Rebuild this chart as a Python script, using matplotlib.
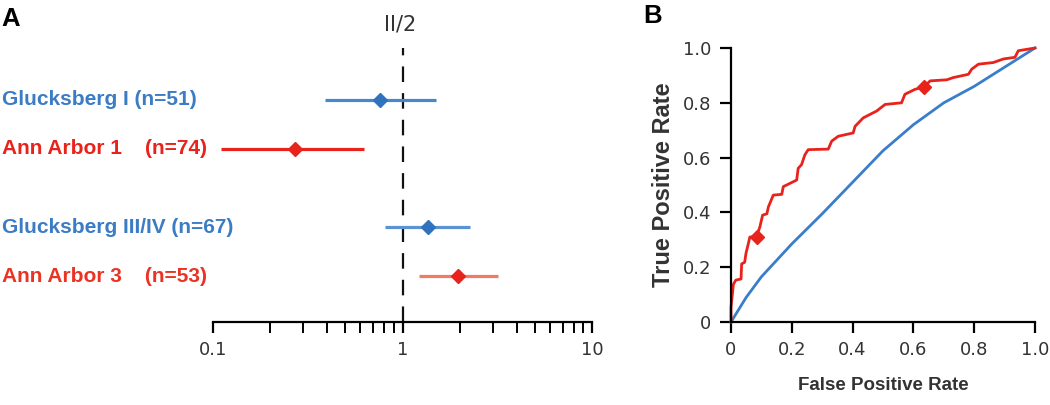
import matplotlib
matplotlib.use("Agg")
import matplotlib.pyplot as plt
import matplotlib.transforms as mtransforms
import numpy as np

plt.rcParams['font.family'] = ['Liberation Sans', 'DejaVu Sans']

# panel A: odds ratios with 95% CI
labels = ["Glucksberg I (n=51)", "Ann Arbor 1    (n=74)",
          "Glucksberg III/IV (n=67)", "Ann Arbor 3    (n=53)"]
est = [0.76, 0.27, 1.36, 1.97]
lo = [0.39, 0.11, 0.81, 1.22]
hi = [1.50, 0.63, 2.28, 3.20]
row_pos = [0, 1, 2.6, 3.6]
text_colors = ['#3b7cc4', '#e8231b', '#3b7cc4', '#ea3323']
line_colors = ['#4a86cc', '#e8231b', '#5a92d2', '#f07a66']
mark_colors = ['#2f72bd', '#e8231b', '#2f72bd', '#e8231b']

# panel B: ROC curves
red_fpr = [0, 0, 0.008, 0.016, 0.033, 0.035, 0.045, 0.049, 0.057, 0.062, 0.084,
           0.095, 0.104, 0.118, 0.123, 0.139, 0.167, 0.172, 0.194, 0.216, 0.221,
           0.232, 0.243, 0.254, 0.320, 0.331, 0.353, 0.402, 0.408, 0.435, 0.479,
           0.507, 0.561, 0.572, 0.605, 0.635, 0.655, 0.710, 0.731, 0.781, 0.792,
           0.814, 0.863, 0.896, 0.934, 0.945, 1.0]
red_tpr = [0, 0.053, 0.138, 0.153, 0.157, 0.212, 0.218, 0.249, 0.286, 0.310, 0.312,
           0.347, 0.390, 0.395, 0.420, 0.463, 0.466, 0.494, 0.506, 0.518, 0.561,
           0.574, 0.610, 0.629, 0.631, 0.660, 0.678, 0.690, 0.714, 0.745, 0.770,
           0.794, 0.800, 0.831, 0.849, 0.858, 0.880, 0.884, 0.892, 0.904, 0.923,
           0.941, 0.947, 0.960, 0.966, 0.990, 1.0]
red_marks_fpr = [0.084, 0.635]
red_marks_tpr = [0.312, 0.858]
blue_fpr = [0, 0.05, 0.10, 0.15, 0.20, 0.30, 0.40, 0.50, 0.60, 0.70, 0.80, 0.90, 1.0]
blue_tpr = [0, 0.09, 0.165, 0.225, 0.285, 0.395, 0.51, 0.625, 0.72, 0.80, 0.86, 0.93, 1.0]

W, H = 1050, 405
fig = plt.figure(figsize=(W / 100, H / 100), dpi=100)
grey = '#333333'
tickfont = ['DejaVu Sans']

# ---- panel A ----
axA = fig.add_axes([213 / W, (H - 322) / H, (592 - 213) / W, (322 - 45) / H])
axA.set_xscale('log')
axA.set_xlim(0.1, 10)
axA.set_ylim(4.53, -1.12)
for s in ['top', 'right', 'left']:
    axA.spines[s].set_visible(False)
axA.spines['bottom'].set_linewidth(1.6)
axA.set_yticks([])
axA.set_xticks([0.1, 1, 10])
axA.set_xticklabels(['0.1', '1', '10'], family=tickfont)
axA.tick_params(axis='x', which='major', direction='out', length=8, width=1.6,
                labelsize=13, labelcolor=grey, pad=6)
axA.tick_params(axis='x', which='minor', direction='out', length=8, width=1.4)
axA.xaxis.set_minor_formatter(matplotlib.ticker.NullFormatter())
axA.axvline(1, color='#111111', lw=1.6, dashes=(7, 5), ymax=0.99)

trans = mtransforms.blended_transform_factory(fig.transFigure, axA.transData)
for i in range(len(labels)):
    axA.plot([lo[i], hi[i]], [row_pos[i], row_pos[i]], color=line_colors[i],
             lw=2.3, solid_capstyle='butt', clip_on=False)
    axA.plot(est[i], row_pos[i], marker='D', ms=7, color=mark_colors[i],
             clip_on=False)
    axA.text(2 / W, row_pos[i], labels[i], transform=trans, color=text_colors[i],
             fontsize=15, fontweight='bold', ha='left', va='center')

fig.text(400 / W, (H - 25) / H, 'II/2', fontsize=15, color=grey,
         family=tickfont, ha='center', va='center')
fig.text(1 / W, (H - 19) / H, 'A', fontsize=18.5, fontweight='bold',
         ha='left', va='center')

# ---- panel B ----
axB = fig.add_axes([731 / W, (H - 322) / H, (1035 - 731) / W, (322 - 48) / H])
axB.plot(blue_fpr, blue_tpr, color='#3a7dc9', lw=2, clip_on=False)
axB.plot(red_fpr, red_tpr, color='#e8231b', lw=2, clip_on=False)
axB.plot(red_marks_fpr, red_marks_tpr, 'D', ms=7, color='#e8231b', clip_on=False)
axB.set_xlim(0, 1)
axB.set_ylim(0, 1)
for s in ['top', 'right']:
    axB.spines[s].set_visible(False)
for s in ['left', 'bottom']:
    axB.spines[s].set_linewidth(1.6)
ticks = [0, 0.2, 0.4, 0.6, 0.8, 1.0]
ticklabels = ['0', '0.2', '0.4', '0.6', '0.8', '1.0']
axB.set_xticks(ticks)
axB.set_xticklabels(ticklabels, family=tickfont)
axB.set_yticks(ticks)
axB.set_yticklabels(ticklabels, family=tickfont)
axB.tick_params(direction='out', length=8, width=1.6, labelsize=13,
                labelcolor=grey, pad=6)
axB.set_xlabel('False Positive Rate', fontsize=13.5, fontweight='bold',
               color=grey, labelpad=13)
axB.set_ylabel('True Positive Rate', fontsize=17, fontweight='bold',
               color=grey, labelpad=6)
fig.text(643 / W, (H - 16) / H, 'B', fontsize=18.5, fontweight='bold',
         ha='left', va='center')

fig.savefig('out.png', dpi=100)
